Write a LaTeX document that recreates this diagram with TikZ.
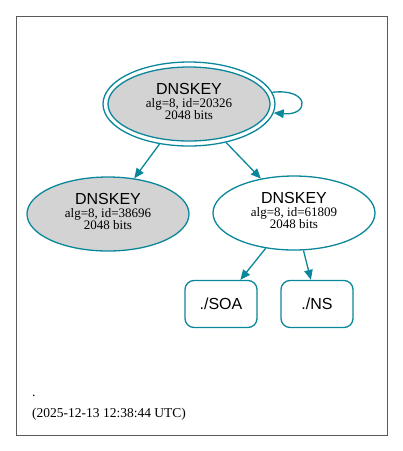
\documentclass[tikz,border=0pt]{standalone}
\usepackage{fontspec}
\setmainfont{Liberation Serif}
\newfontfamily\hfont{Liberation Sans}
\usetikzlibrary{shapes.geometric,arrows.meta}
\definecolor{edgec}{HTML}{0A879A}
\definecolor{keyfill}{HTML}{D3D3D3}
\tikzset{
  keynode/.style={ellipse,draw=edgec,line width=1.3pt,minimum width=162pt,minimum height=74pt,inner sep=0pt},
  rrbox/.style={rectangle,rounded corners=9pt,draw=edgec,line width=1.3pt,minimum width=72pt,minimum height=47pt,inner sep=0pt,font=\hfont\fontsize{16}{16}\selectfont},
  conn/.style={draw=edgec,line width=1.3pt,-{Triangle[length=10pt,width=8.5pt]}},
  titletext/.style={anchor=base,inner sep=0pt,text depth=0pt,font=\hfont\fontsize{16}{16}\selectfont},
  subtext/.style={anchor=base,inner sep=0pt,text height=9pt,font=\fontsize{13}{13}\selectfont},
  foottext/.style={anchor=base west,inner sep=0pt,font=\fontsize{13.5}{14}\selectfont}
}
\newcommand{\keytexts}[4]{%
  \node[titletext] (#1t) at (#2,#3-10) {DNSKEY};
  \node[subtext] (#1a) at (#2,#3+3) {alg=8, id=#4};
  \node[subtext] (#1b) at (#2,#3+15) {2048 bits};
}
\begin{document}
\begin{tikzpicture}[x=1pt,y=-1pt]
\useasboundingbox (0,0) rectangle (403,451);
\draw[draw=gray!70!black,line width=0.8pt] (16,16) rectangle (387,435);
\node[keynode,minimum width=172pt,minimum height=84pt] (topouter) at (189,104) {};
\node[keynode,fill=keyfill] (top) at (189,104) {};
\node[keynode,fill=keyfill] (left) at (108,214) {};
\node[keynode,fill=white] (right) at (294,213) {};
\keytexts{top}{189}{104}{20326}
\keytexts{left}{108}{214}{38696}
\keytexts{right}{294}{213}{61809}
\node[rrbox] (soa) at (221,304) {./SOA};
\node[rrbox] (ns) at (317,304) {./NS};
\node[foottext] (dot) at (32,396) {.};
\node[foottext] (ts) at (32,417) {(2025-12-13 12:38:44 UTC)};
\draw[conn] (topouter.8) .. controls (310,88) and (310,116) .. (topouter.-6);
\draw[conn] (topouter) -- (left);
\draw[conn] (topouter) -- (right);
\draw[conn] (right) -- (soa);
\draw[conn] (right) -- (ns);
\end{tikzpicture}
\end{document}
